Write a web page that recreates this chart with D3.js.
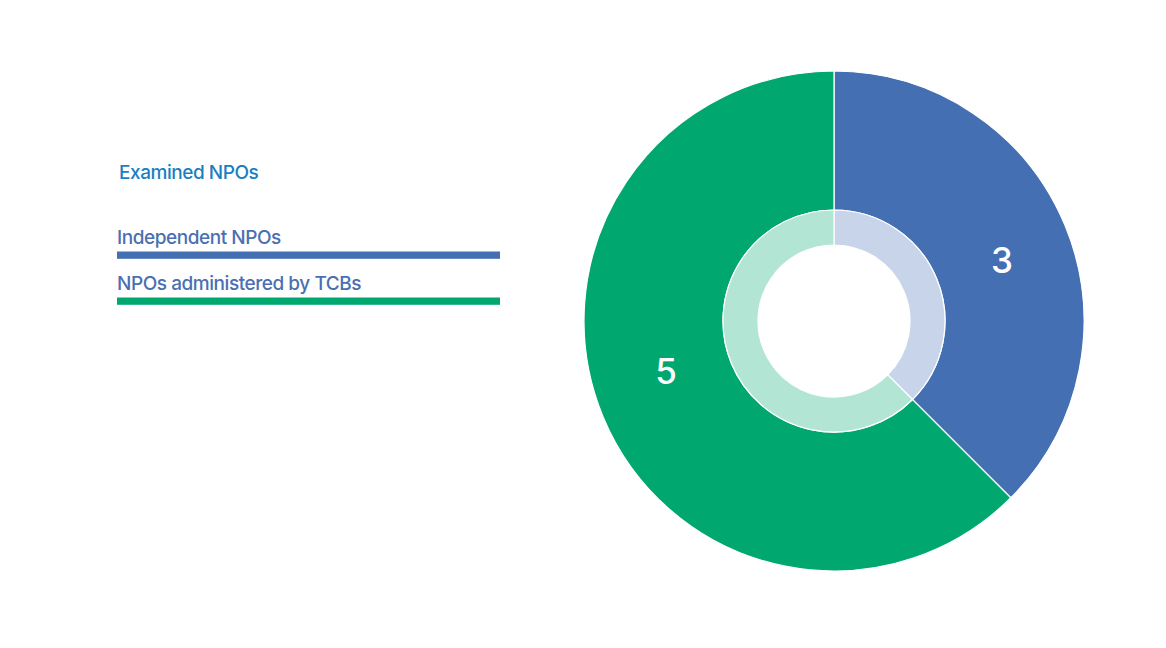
<!DOCTYPE html>
<html>
<head>
<meta charset="utf-8">
<script src="https://cdn.jsdelivr.net/npm/d3@7"></script>
<style>
  html, body { margin: 0; padding: 0; background: #fff; }
  svg { display: block; }
  text { font-family: "Inter", "Lato", sans-serif; }
</style>
</head>
<body>
<svg id="chart" width="1166" height="648"></svg>
<script>
// Examined NPOs by type
const categories = ["Independent NPOs", "NPOs administered by TCBs"];
const values = [3, 5];
const colors = ["#4470b3", "#00a870"];
const paleColors = ["#c8d4ea", "#b3e5d4"];
const title = "Examined NPOs";

const svg = d3.select("#chart");
const cx = 834, cy = 321;
const rOuter = 250, rMid = 111, rInner = 76;

const pie = d3.pie().sort(null).value(d => d)(values);

const g = svg.append("g").attr("transform", `translate(${cx},${cy})`);

// outer ring
const outerArc = d3.arc().innerRadius(rMid).outerRadius(rOuter);
g.selectAll("path.outer")
  .data(pie)
  .join("path")
  .attr("class", "outer")
  .attr("d", outerArc)
  .attr("fill", (d, i) => colors[i])
  .attr("stroke", "#fff")
  .attr("stroke-width", 1.2);

// pale inner ring
const innerArc = d3.arc().innerRadius(rInner).outerRadius(rMid);
g.selectAll("path.inner")
  .data(pie)
  .join("path")
  .attr("class", "inner")
  .attr("d", innerArc)
  .attr("fill", (d, i) => paleColors[i])
  .attr("stroke", "#fff")
  .attr("stroke-width", 1.2);

// value labels
const labelArc = d3.arc().innerRadius(177).outerRadius(177);
g.selectAll("text.value")
  .data(pie)
  .join("text")
  .attr("class", "value")
  .attr("transform", d => {
    const shift = 0.072;
    const c = labelArc.centroid({ startAngle: d.startAngle + shift, endAngle: d.endAngle + shift });
    return `translate(${c[0]},${c[1] - 5})`;
  })
  .attr("text-anchor", "middle")
  .attr("dy", "0.36em")
  .attr("fill", "#fff")
  .attr("font-size", 35)
  .attr("font-weight", 500)
  .text(d => d.data);

// legend
const legend = svg.append("g").attr("transform", "translate(117,0)");
legend.append("text")
  .attr("x", 2).attr("y", 179)
  .attr("fill", "#1a7fc1")
  .attr("font-size", 19)
  .attr("font-weight", 500)
  .attr("letter-spacing", -0.45)
  .text(title);

const legendY = d3.scaleBand().domain(categories).range([244, 336]);
const items = legend.selectAll("g.item")
  .data(categories)
  .join("g")
  .attr("class", "item")
  .attr("transform", d => `translate(0,${legendY(d)})`);
items.append("text")
  .attr("y", 0)
  .attr("fill", "#4a6fb2")
  .attr("font-size", 19)
  .attr("font-weight", 500)
  .attr("letter-spacing", -0.45)
  .text(d => d);
items.append("rect")
  .attr("x", 0).attr("y", 7.5)
  .attr("width", 383).attr("height", 7.3)
  .attr("fill", (d, i) => colors[i]);
</script>
</body>
</html>
